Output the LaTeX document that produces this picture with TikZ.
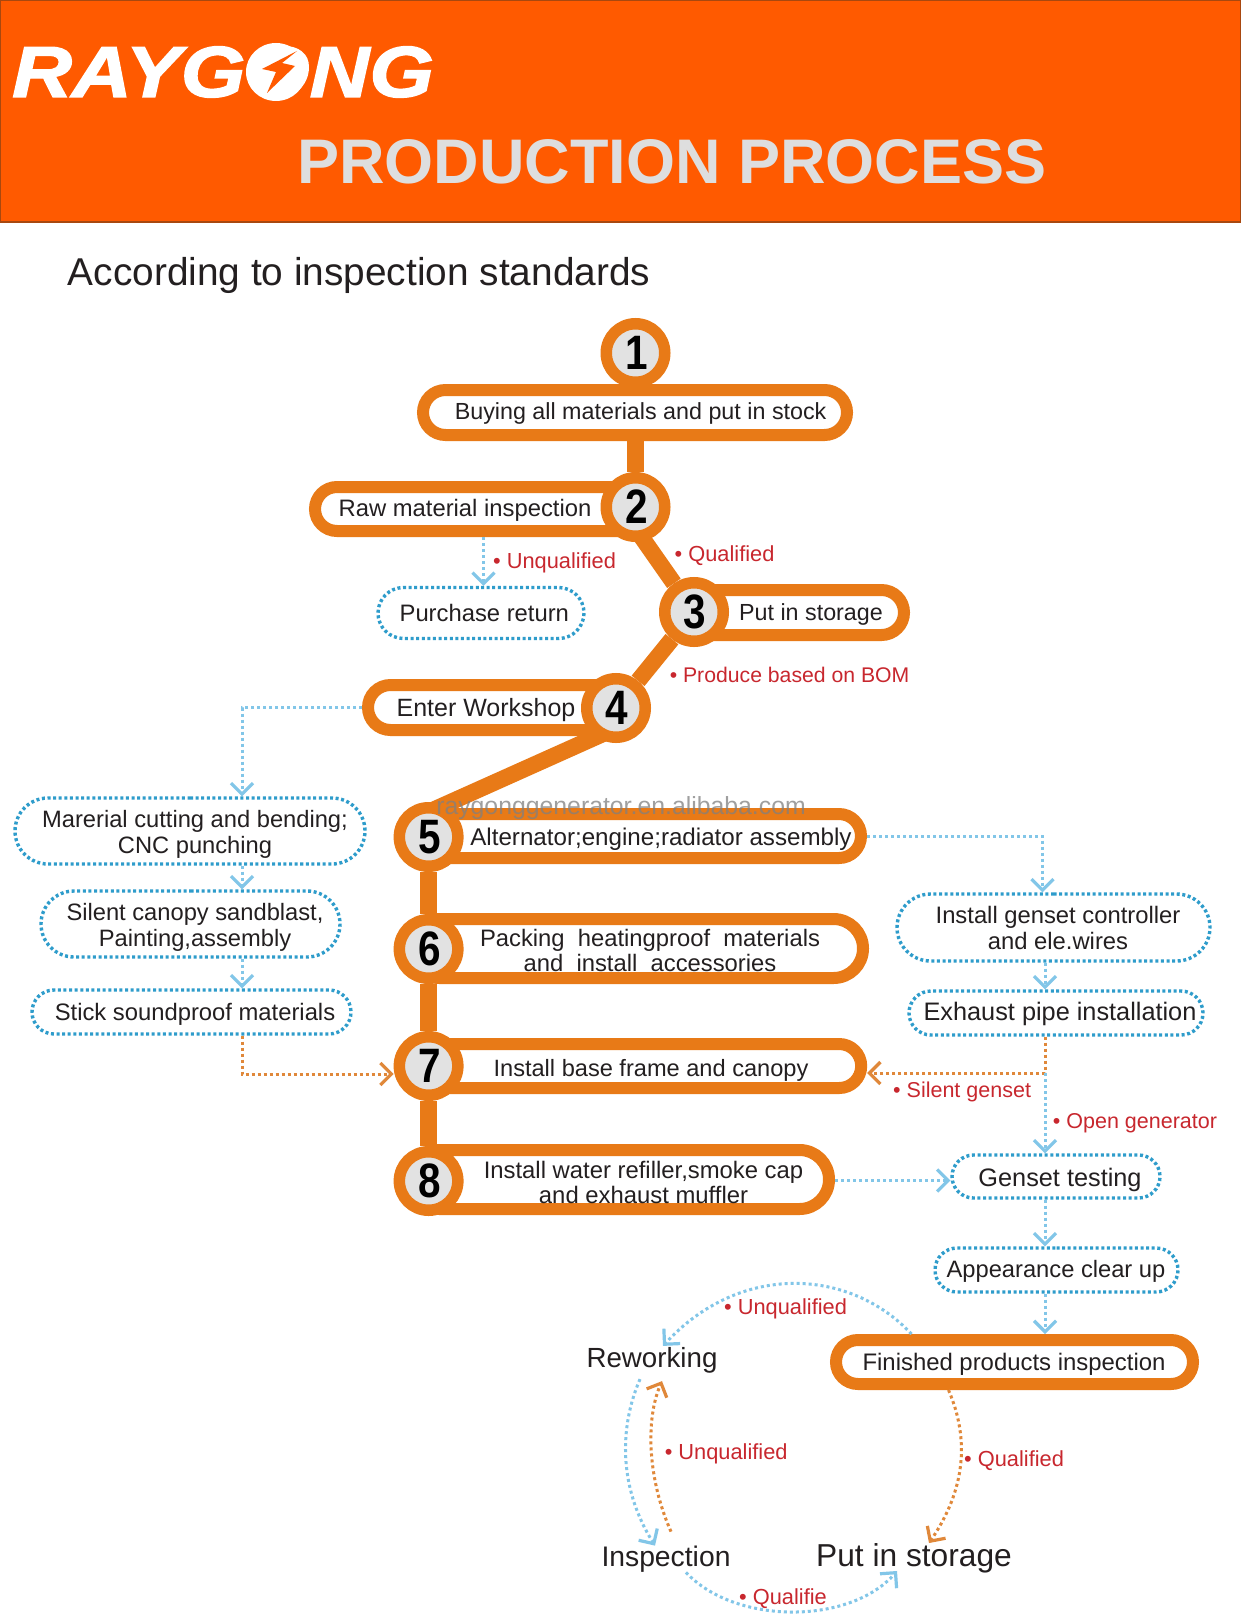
\documentclass[tikz,border=0pt]{standalone}
\usepackage{fontspec}
\setmainfont{Liberation Sans}
\newfontfamily\logofont[BoldItalicFeatures={FakeBold=2,FakeStretch=1.15}]{Liberation Sans}
\usetikzlibrary{arrows.meta,shapes.misc,backgrounds}
\definecolor{headorange}{HTML}{FF5A00}
\definecolor{headedge}{HTML}{A8480F}
\definecolor{headgray}{HTML}{DEDEDE}
\definecolor{pillorange}{HTML}{E87A17}
\definecolor{circlegray}{HTML}{E2E2E2}
\definecolor{inkblack}{HTML}{231F20}
\definecolor{labelred}{HTML}{C8272E}
\definecolor{boxblue}{HTML}{2E9CCB}
\definecolor{linkblue}{HTML}{82C6E8}
\definecolor{linkorange}{HTML}{E0883A}

\begin{document}
\begin{tikzpicture}[
  x=1pt, y=-1pt,
  numbernode/.style={shape=circle, draw=pillorange, line width=11.5, fill=circlegray, minimum size=58.5, inner sep=0, text=black, font=\fontsize{46}{46}\selectfont\bfseries },
  pillnode/.style={shape=rounded rectangle, draw=pillorange, line width=12, fill=white, inner sep=0 },
  boxtext/.style={align=center, inner sep=0, text=inkblack },
  dotnode/.style={shape=rounded rectangle, draw=boxblue, line width=3.4, dash pattern=on 3 off 2.6, inner sep=0 },
  freenode/.style={inner sep=0, text=inkblack },
  rednode/.style={anchor=west, inner sep=0, text=labelred },
  bluelink/.style={draw=linkblue, line width=3, dash pattern=on 3 off 3, -{Straight Barb[length=11,width=22,line width=3.2,color=linkblue]} },
  orangelink/.style={draw=linkorange, line width=3, dash pattern=on 3 off 3, -{Straight Barb[length=11,width=22,line width=3.2,color=linkorange]} },
  trunk/.style={draw=pillorange, line width=16.5 },
]
\useasboundingbox (0,0) rectangle (1241,1616);
%%%header
\filldraw[fill=headorange, draw=headedge, line width=1.5] (0,0.75) rectangle (1241,222);
\node[inner sep=0, text=white, font=\fontsize{72}{72}\logofont\bfseries\itshape] (logo) at (223,72) {RAYGONG};
\fill[white] (276,72) ellipse (30 and 29);
\fill[headorange] (297,51) -- (262,69) -- (276,72) -- (267,93) -- (295,66) -- (282,63) -- cycle;
\node[inner sep=0, text=headgray, font=\fontsize{63}{63}\selectfont\bfseries] (title) at (672,162) {PRODUCTION PROCESS};
\node[freenode, font=\fontsize{38.8}{40}\selectfont] (subtitle) at (359,275.5) {According to inspection standards};
%%%pills
\foreach \n/\x/\y/\w/\h in {1/635/412.5/424/45, 2/477.5/509/325/44, 3/797/612.5/214/45, 4/494/707.5/252/45, 5/635.5/836/451/44, 6/636.5/948.5/453/59, 7/635.7/1066/451/44, 8/619.5/1179.5/419/59, F/1014.5/1362/357/44} {
  \node[pillnode, minimum width=\w, minimum height=\h] (p\n) at (\x,\y) {};
}
%%%circles
\foreach \n/\x/\y in {1/635.5/353, 2/635.5/507, 3/694/612, 4/616/708, 5/428.6/837, 6/428.6/949, 7/428.6/1066, 8/428.6/1181} {
  \node[numbernode] (c\n) at (\x,\y) {\scalebox{0.88}[1.05]{\hspace{2pt}\n}};
}
\begin{pgfonlayer}{background}
  \fill[white] (0,222) rectangle (1241,1616);
  \draw[trunk] (c1) -- (c2);
  \draw[trunk] ([xshift=-15pt]c2.center) -- (c3);
  \draw[trunk] (c3) -- (c4);
  \draw[trunk] ([yshift=-20pt]c4.center) -- ([yshift=25pt]c5.center);
  \draw[trunk] (c5) -- (c6);
  \draw[trunk] (c6) -- (c7);
  \draw[trunk] (c7) -- (c8);
\end{pgfonlayer}
%%%texts in the pills
\foreach \n/\x/\y/\s/\t in {1/640.6/413/23.3/{Buying all materials and put in stock}, 2/465/510/23.8/{Raw material inspection}, 3/811/614.5/23.3/{Put in storage}, 4/486/710/25/{Enter Workshop}, 5/661/839/24.15/{Alternator;engine;radiator assembly}, 6/650/950.5/23.8/{Packing~~heatingproof~~materials\\and~~install~~accessories}, 7/651/1070/23.6/{Install base frame and canopy}, 8/643.5/1182/23.85/{Install water refiller,smoke cap\\and exhaust muffler}, F/1014/1364/23.9/{Finished products inspection}} {
  \node[boxtext, font=\fontsize{\s}{25}\selectfont] (t\n) at (\x,\y) {\t};
}
\node[inner sep=0, text=gray, opacity=0.75, font=\fontsize{24.8}{26}\selectfont] (mark) at (621,808) {raygonggenerator.en.alibaba.com};
%%%dotted boxes
\foreach \n/\x/\y/\w/\h in {0/481/613/206/51, 1/190/831/350/66, 2/190.5/924/299/66, 3/191.5/1012/319/44, 4/1053.5/927.5/313/67, 5/1056/1013/294/44, 6/1056/1176.5/208/43, 7/1056.5/1270/243/44} {
  \node[dotnode, minimum width=\w, minimum height=\h] (b\n) at (\x,\y) {};
}
\foreach \n/\x/\y/\s/\t in {0/484.3/613/23.8/{Purchase return}, 1/195/834/23.7/{Marerial cutting and bending;\\CNC punching}, 2/195/927/23.7/{Silent canopy sandblast,\\Painting,assembly}, 3/195/1014/23.8/{Stick soundproof materials}, 4/1058/928/23.8/{Install genset controller\\and ele.wires}, 5/1060/1014/25.3/{Exhaust pipe installation}, 6/1060/1179.5/25.3/{Genset testing}, 7/1056/1271/23.7/{Appearance clear up}} {
  \node[boxtext, font=\fontsize{\s}{26}\selectfont] (d\n) at (\x,\y) {\t};
}
%%%free texts
\node[freenode, font=\fontsize{27.7}{28}\selectfont] (rework) at (652,1360) {Reworking};
\node[freenode, font=\fontsize{28.3}{29}\selectfont] (inspect) at (666,1559) {Inspection};
\node[freenode, font=\fontsize{31.7}{32}\selectfont] (store) at (914,1558) {Put in storage};
%%%red labels
\foreach \n/\x/\y/\s/\t in {1/674.5/556/21.8/Qualified, 2/493/563/21.8/Unqualified, 3/669.6/675/21.2/Produce based on BOM, 4/893/1092/21.5/Silent genset, 5/1052.7/1123/21.5/Open generator, 6/724/1309/21.8/Unqualified, 7/664.6/1454/21.8/Unqualified, 8/964/1461/21.8/Qualified, 9/739/1599/21.8/Qualifie} {
  \node[rednode, font=\fontsize{\s}{24}\selectfont] (r\n) at (\x,\y) {• \t};
}
%%%links
\coordinate (split) at (1045,1073);
\draw[bluelink] ([xshift=6pt]p2.south) coordinate (ret) -- (ret |- b0.north);
\draw[bluelink] (p4.west) -| ([xshift=52pt]b1.north);
\draw[bluelink] ([xshift=52pt]b1.south) -- ([xshift=51.5pt]b2.north);
\draw[bluelink] ([xshift=51.5pt]b2.south) -- ([xshift=50.5pt]b3.north);
\draw[orangelink] ([xshift=50.5pt]b3.south) |- ([yshift=-8pt]c7.west);
\draw[bluelink] (p5.east) -| ([xshift=-11pt]b4.north);
\draw[bluelink] ([xshift=-8.5pt]b4.south) -- ([xshift=-11pt]b5.north);
\draw[orangelink] ([xshift=-11pt]b5.south) |- ([yshift=-7pt]p7.east);
\draw[bluelink] (split) -- ([xshift=-11pt]b6.north);
\draw[bluelink] ([yshift=-1pt]p8.east) -- ([yshift=-4pt]b6.west);
\draw[bluelink] ([xshift=-11pt]b6.south) -- ([xshift=-11.5pt]b7.north);
\draw[bluelink] ([xshift=-11.5pt]b7.south) -- ([xshift=30.5pt]pF.north);
\draw[bluelink] ([xshift=-103pt]pF.north) .. controls (850,1268) and (740,1262) .. ([xshift=11pt,yshift=1pt]rework.north);
\draw[bluelink] ([xshift=-12pt,yshift=-6pt]rework.south) .. controls (618,1430) and (620,1490) .. ([xshift=-11pt]inspect.north);
\draw[orangelink] ([xshift=5pt,yshift=14pt]inspect.north) .. controls (648,1480) and (645,1420) .. ([xshift=10pt,yshift=-8pt]rework.south);
\draw[orangelink] ([xshift=-66pt]pF.south) .. controls (970,1440) and (965,1490) .. ([xshift=15pt]store.north);
\draw[bluelink] ([xshift=20pt]inspect.south) .. controls (735,1625) and (850,1625) .. ([xshift=-17pt,yshift=2pt]store.south);
%%%%%%%%%
\end{tikzpicture}
\end{document}
